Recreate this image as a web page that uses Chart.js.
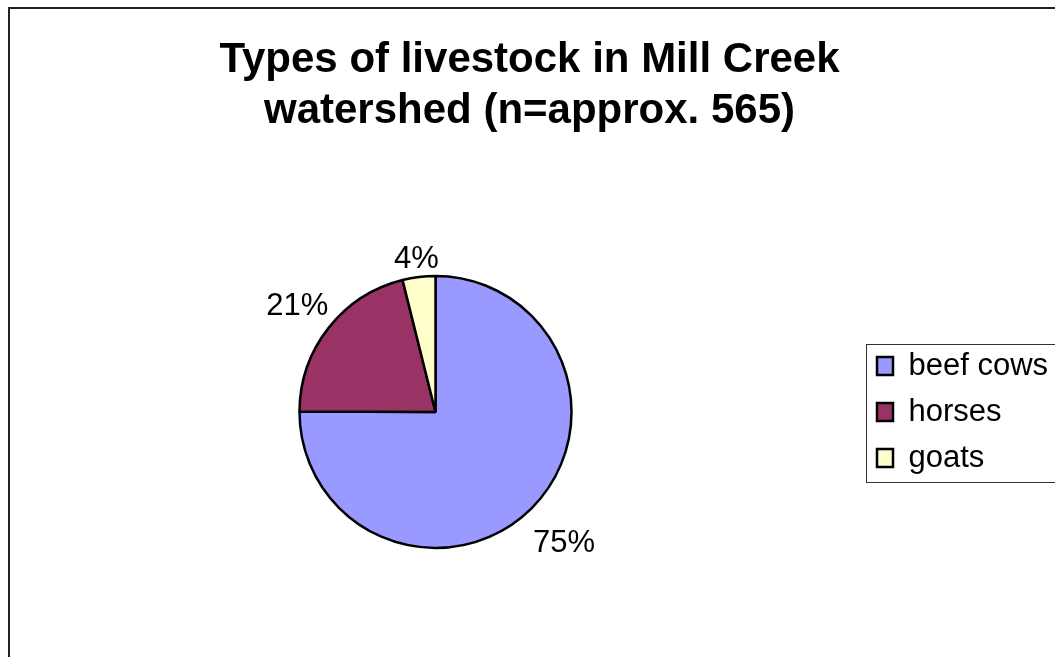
<!DOCTYPE html>
<html>
<head>
<meta charset="utf-8">
<script src="https://cdn.jsdelivr.net/npm/chart.js@4.4.1/dist/chart.umd.min.js"></script>
<style>
  html, body { margin: 0; padding: 0; background: #fff; overflow: hidden; }
  canvas { display: block; }
</style>
</head>
<body>
<canvas id="graficoPizza" width="1055" height="657"></canvas>
<script>
// dados do gráfico (n = aprox. 565)
const categorias = ["beef cows", "horses", "goats"];
const quantidades = [424, 119, 22];
const titulo = ["Types of livestock in Mill Creek", "watershed (n=approx. 565)"];

// cores da paleta antiga do Excel
const cores = ["#9999FF", "#993366", "#FFFFCC"];

const fonte = "Arial, 'Liberation Sans', sans-serif";

// ------------------------------------------------------------------------
// moldura externa do gráfico
const moldura = {
  id: "moldura",
  beforeDraw(chart) {
    const ctx = chart.ctx;
    ctx.save();
    ctx.fillStyle = "#fff";
    ctx.fillRect(0, 0, chart.width, chart.height);
    ctx.strokeStyle = "#222";
    ctx.lineWidth = 2;
    ctx.strokeRect(9, 8, chart.width + 20, chart.height + 20);
    ctx.restore();
  },
  // caixa em volta da legenda
  afterDraw(chart) {
    const caixas = chart.legend.legendHitBoxes;
    if (!caixas || !caixas.length) return;
    const ultima = caixas[caixas.length - 1];
    const ctx = chart.ctx;
    ctx.save();
    ctx.strokeStyle = "#333";
    ctx.lineWidth = 1;
    const x = Math.round(caixas[0].left - 11) + 0.5;
    const y = Math.round(caixas[0].top - 6) + 0.5;
    const b = Math.round(ultima.top + ultima.height + 9) + 0.5;
    ctx.strokeRect(x, y, chart.width - x + 20, b - y);
    ctx.restore();
  },
};

// ------------------------------------------------------------------------
// porcentagens do lado de fora de cada fatia
// (rótulos de baixo ficam um pouco mais afastados, como no Excel)
const rotulosPizza = {
  id: "rotulosPizza",
  afterDatasetsDraw(chart) {
    const ctx = chart.ctx;
    const meta = chart.getDatasetMeta(0);
    const total = quantidades.reduce((a, b) => a + b, 0);
    ctx.save();
    ctx.font = "31px " + fonte;
    ctx.fillStyle = "#000";
    ctx.textAlign = "center";
    ctx.textBaseline = "alphabetic";
    meta.data.forEach((arc, i) => {
      const p = arc.getProps(["x", "y", "startAngle", "endAngle", "outerRadius"], true);
      const meio = (p.startAngle + p.endAngle) / 2;
      const texto = Math.round((quantidades[i] / total) * 100) + "%";
      const m = ctx.measureText(texto);
      const w = m.width;
      const h = m.actualBoundingBoxAscent;
      const cos = Math.cos(meio);
      const sin = Math.sin(meio);
      const dist = p.outerRadius + 12 + 6 * sin + (Math.abs(cos) * w) / 2 + (Math.abs(sin) * h) / 2;
      ctx.fillText(texto, p.x + cos * dist, p.y + sin * dist + h / 2);
    });
    ctx.restore();
  },
};

const grfPizza = document.getElementById("graficoPizza");

new Chart(grfPizza, {
  type: "pie",
  data: {
    labels: categorias,
    datasets: [
      {
        data: quantidades,
        backgroundColor: cores,
        borderColor: "#000",
        borderWidth: 2.5,
      },
    ],
  },
  options: {
    responsive: false,
    animation: false,
    events: [],
    radius: 136,
    layout: { padding: { left: 9, right: 5, top: 0, bottom: 0 } },
    plugins: {
      title: {
        display: true,
        text: titulo,
        color: "#000",
        font: { family: fonte, size: 42, weight: "bold", lineHeight: 1.214 },
        padding: { top: 35, bottom: 30 },
      },
      legend: {
        display: true,
        position: "right",
        fullSize: false,
        maxWidth: 188,
        labels: {
          color: "#000",
          font: { family: fonte, size: 31 },
          boxWidth: 16,
          boxHeight: 18,
          padding: 15,
        },
      },
      tooltip: { enabled: false },
    },
  },
  plugins: [moldura, rotulosPizza],
});
</script>
</body>
</html>
